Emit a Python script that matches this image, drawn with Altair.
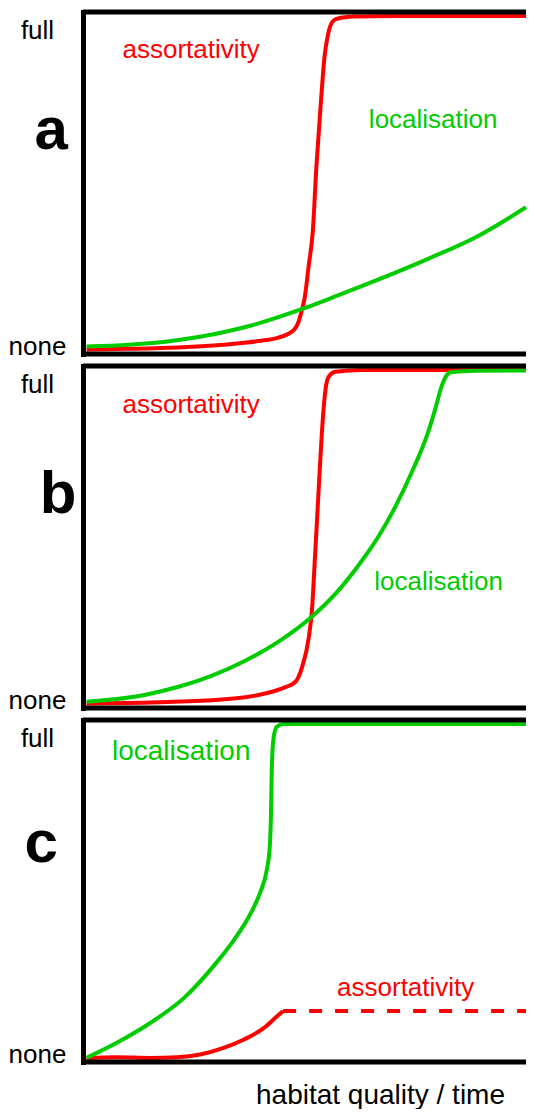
import altair as alt
import pandas as pd

RED = "#ff0000"
GREEN = "#00cc00"
FONT = "Liberation Sans"

SERIES = ["assortativity", "localisation"]
LEVEL_TICKS = [2.3, 94.6]          # where "none" / "full" sit (percent of panel height)

# ---------------- panel a ----------------
a_assort_x = [0.8, 10, 21, 32, 39, 43.4, 45.6, 46.9, 47.8, 48.5, 49.2, 50.1, 51, 51.8,
              52.7, 53.6, 54.3, 54.9, 55.8, 57.2, 60, 70, 100]
a_assort_y = [1.3, 1.5, 1.9, 2.8, 3.8, 4.8, 5.9, 7.2, 9.3, 12.5, 16.5, 26, 36, 55,
              72, 87, 93, 96, 97.7, 98.3, 98.7, 98.8, 98.8]
a_local_x = [0.8, 10.1, 21.2, 29.0, 36.7, 48.5, 56.7, 65.6, 76.7, 87.8, 100]
a_local_y = [2.2, 2.7, 4.1, 5.8, 8.1, 13.1, 17.2, 21.8, 27.9, 34.6, 42.9]
a_labels = ["assortativity", "localisation"]
a_label_x = [24.0, 77.7]
a_label_y = [89.0, 68.4]
a_label_size = [26, 26]

# ---------------- panel b ----------------
b_assort_x = [0.8, 28.6, 39.7, 44.9, 47.1, 48.6, 50.1, 50.8, 51.5, 52.3, 53.0, 53.8,
              54.5, 56.0, 61.9, 100]
b_assort_y = [1.3, 2.3, 4.0, 6.1, 7.6, 11.9, 20.6, 28.5, 44.7, 64.0, 80.4, 93.0,
              96.8, 98.3, 98.8, 98.8]
b_local_x = [0.8, 7.4, 13.9, 21.2, 28.5, 36.1, 43.4, 50.7, 56.3, 61.8, 65.6, 69.4,
             72.9, 76.7, 78.2, 79.6, 80.5, 81.6, 84.5, 87.8, 100]
b_local_y = [1.8, 2.6, 3.9, 6.2, 9.4, 13.9, 19.4, 26.6, 33.8, 42.9, 50.2, 59.1,
             68.8, 81.1, 87.6, 94.2, 96.9, 98.2, 98.5, 98.6, 98.7]
b_labels = ["assortativity", "localisation"]
b_label_x = [24.0, 78.9]
b_label_y = [88.7, 36.9]
b_label_size = [26, 26]

# ---------------- panel c ----------------
c_local_x = [0.8, 7.5, 14.9, 22.3, 29.7, 33.4, 37.1, 39.3, 40.8, 41.4, 41.7, 41.9,
             42.3, 43.0, 44.5, 100]
c_local_y = [1.2, 5.6, 11.4, 18.6, 29.2, 35.5, 43.2, 49.5, 56.3, 62.1, 71.7, 86.2,
             94.9, 98.0, 98.8, 98.8]
c_assort_x = [0.8, 7.5, 14.9, 20.8, 26.0, 31.2, 35.6, 40.1, 43.0, 44.4]
c_assort_y = [1.2, 1.4, 1.2, 1.4, 2.2, 4.1, 6.5, 9.9, 13.3, 14.9]
c_dash_x = [44.4, 100]
c_dash_y = [14.9, 14.9]
c_labels = ["localisation", "assortativity"]
c_label_x = [21.8, 71.6]
c_label_y = [90.6, 21.6]
c_label_size = [28, 26]

X_TITLE = "habitat quality / time"

W, H = 443, 342
X_MAX = 98.3   # the panels run off the right edge of the page in the original


def lines_frame(ax, ay, lx, ly):
    return pd.concat([
        pd.DataFrame({"x": ax, "y": ay, "series": "assortativity"}),
        pd.DataFrame({"x": lx, "y": ly, "series": "localisation"}),
    ], ignore_index=True)


def panel(lines_df, labels, lab_x, lab_y, lab_fs, letter, title_x, title_y,
          dash=None, x_title=None):
    xs = alt.Scale(domain=[0, X_MAX], nice=False, zero=False, clamp=True)
    ys = alt.Scale(domain=[0, 100], nice=False, zero=False)
    yaxis = alt.Axis(
        values=LEVEL_TICKS,
        labelExpr="datum.value > 50 ? 'full' : 'none'",
        labelFont=FONT, labelFontSize=26, labelColor="black",
        labelAlign="center", labelBaseline="middle", labelPadding=46,
        ticks=False, tickSize=0, grid=False,
        domain=True, domainColor="black", domainWidth=5, domainCap="square",
        title=letter, titleFont=FONT, titleFontSize=60, titleFontWeight="bold",
        titleColor="black", titleAngle=0, titleAlign="center",
        titleBaseline="alphabetic", titleX=title_x, titleY=title_y,
    )
    if x_title:
        xaxis = alt.Axis(
            domain=False, ticks=False, labels=False, grid=False, tickSize=0,
            title=x_title, titleFont=FONT, titleFontSize=28, titleFontWeight="normal",
            titleColor="black", titleAlign="center", titleBaseline="alphabetic",
            titleX=297, titleY=41,
        )
    else:
        xaxis = None
    X = alt.X("x:Q", scale=xs, axis=xaxis)
    Y = alt.Y("y:Q", scale=ys, axis=yaxis)
    color = alt.Color("series:N", scale=alt.Scale(domain=SERIES, range=[RED, GREEN]),
                      legend=None)

    layers = [
        alt.Chart(lines_df).mark_line(strokeWidth=4, interpolate="monotone")
        .encode(x=X, y=Y, color=color)
    ]
    if dash is not None:
        layers.append(
            alt.Chart(pd.DataFrame({"x": dash[0], "y": dash[1]}))
            .mark_line(strokeWidth=4, strokeDash=[13, 13], color=RED)
            .encode(x=X, y=Y)
        )
    lab_df = pd.DataFrame({"label": labels, "x": lab_x, "y": lab_y, "fs": lab_fs,
                           "series": labels})
    layers.append(
        alt.Chart(lab_df).mark_text(font=FONT, baseline="middle", align="center")
        .encode(x=X, y=Y, text="label:N", color=color,
                size=alt.Size("fs:Q", scale=None, legend=None))
    )
    border_df = pd.DataFrame({"y": [0, 100]})
    layers.append(
        alt.Chart(border_df).mark_rule(color="black", strokeWidth=5, strokeCap="butt")
        .encode(y=Y)
    )
    return alt.layer(*layers).properties(width=W, height=H)


pa = panel(lines_frame(a_assort_x, a_assort_y, a_local_x, a_local_y),
           a_labels, a_label_x, a_label_y, a_label_size, "a", -32.2, 136.8)
pb = panel(lines_frame(b_assort_x, b_assort_y, b_local_x, b_local_y),
           b_labels, b_label_x, b_label_y, b_label_size, "b", -25.5, 146.7)
pc = panel(lines_frame(c_assort_x, c_assort_y, c_local_x, c_local_y),
           c_labels, c_label_x, c_label_y, c_label_size, "c", -42.2, 141.3,
           dash=(c_dash_x, c_dash_y), x_title=X_TITLE)

chart = (
    alt.vconcat(pa, pb, pc, spacing=2)
    .properties(padding={"left": 0, "top": 0, "bottom": 0, "right": -7},
                background="white")
    .configure_view(strokeWidth=0)
)

chart.save("out.html", embed_options={"renderer": "svg", "actions": False})
